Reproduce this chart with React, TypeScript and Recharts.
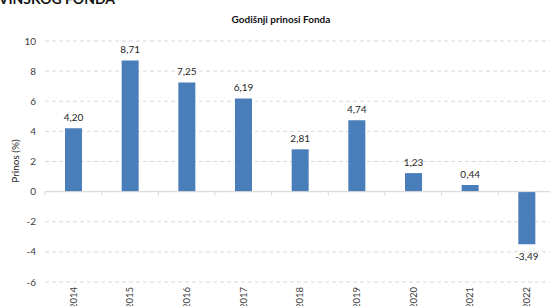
import { BarChart, Bar, XAxis, YAxis, CartesianGrid, ReferenceLine, LabelList } from "recharts";

const years = ["2014", "2015", "2016", "2017", "2018", "2019", "2020", "2021", "2022"];
const returns = [4.2, 8.71, 7.25, 6.19, 2.81, 4.74, 1.23, 0.44, -3.49];
const yTicks = [-6, -4, -2, 0, 2, 4, 6, 8, 10];

const data = years.map((year, i) => ({ year, prinos: returns[i] }));

const FONT = "Lato, 'Open Sans', sans-serif";
const BLUE = "#4a7ebb";
const GRID = "#d9d9d9";

const fmt = (v: number) => v.toFixed(2).replace(".", ",");

// zero line drawn like Excel's category axis: solid, with ticks between categories
function ZeroLine(props: any) {
  const { x1, y1, x2, y2 } = props;
  const step = (x2 - x1) / years.length;
  return (
    <g>
      <line x1={x1} y1={y1} x2={x2} y2={y2} stroke={GRID} strokeWidth={1} />
      {years.map((_, i) => (
        <line key={i} x1={x1 + i * step} y1={y1} x2={x1 + i * step} y2={y1 + 4} stroke={GRID} />
      ))}
      <line x1={x2} y1={y1} x2={x2} y2={y1 + 4} stroke={GRID} />
    </g>
  );
}

function YearTick({ x, y, payload }: any) {
  return (
    <g transform={`translate(${x},${y})`}>
      <text transform="rotate(-90)" textAnchor="end" dy="0.35em" fontSize={9.5} fill="#404040" fontFamily={FONT}>
        {payload.value}
      </text>
    </g>
  );
}

function ValueLabel({ x, y, width, height, value }: any) {
  const top = Math.min(y, y + height);
  const bottom = Math.max(y, y + height);
  const neg = value < 0;
  return (
    <text
      x={x + width / 2}
      y={neg ? bottom + 16 : top - 7}
      textAnchor="middle"
      fontSize={10}
      fill="#262626"
      fontFamily={FONT}
    >
      {fmt(value)}
    </text>
  );
}

export default function App() {
  return (
    <div
      style={{
        position: "absolute",
        left: 0,
        top: 0,
        width: 550,
        height: 306,
        overflow: "hidden",
        background: "#fff",
        fontFamily: FONT,
      }}
    >
      <div
        style={{
          position: "absolute",
          right: 435,
          top: -10,
          fontSize: 14,
          fontWeight: 700,
          whiteSpace: "nowrap",
          color: "#111",
        }}
      >
        MIROVINSKOG FONDA
      </div>
      <div
        style={{
          position: "absolute",
          left: 231,
          top: 13,
          width: 100,
          textAlign: "center",
          fontSize: 10,
          fontWeight: 700,
          whiteSpace: "nowrap",
          color: "#111",
        }}
      >
        Godišnji prinosi Fonda
      </div>
      <div
        style={{
          position: "absolute",
          left: 15,
          top: 161,
          transform: "translate(-50%, -50%) rotate(-90deg)",
          fontSize: 10,
          whiteSpace: "nowrap",
          color: "#262626",
        }}
      >
        Prinos (%)
      </div>
      <div style={{ position: "absolute", left: 0, top: 0 }}>
        <BarChart
          width={600}
          height={330}
          data={data}
          margin={{ top: 41, right: 45, left: 0, bottom: 18 }}
        >
          <CartesianGrid vertical={false} stroke={GRID} strokeDasharray="4 3" />
          <XAxis
            dataKey="year"
            axisLine={false}
            tickLine={false}
            tickSize={0}
            tickMargin={5}
            height={30}
            interval={0}
            tick={<YearTick />}
          />
          <YAxis
            domain={[-6, 10]}
            ticks={yTicks}
            width={45}
            axisLine={false}
            tickLine={false}
            tickSize={0}
            tickMargin={9}
            tick={{ fontSize: 10, fill: "#404040", fontFamily: FONT }}
          />
          <ReferenceLine y={0} shape={<ZeroLine />} />
          <Bar dataKey="prinos" fill={BLUE} barSize={17} isAnimationActive={false}>
            <LabelList dataKey="prinos" content={<ValueLabel />} />
          </Bar>
        </BarChart>
      </div>
    </div>
  );
}
